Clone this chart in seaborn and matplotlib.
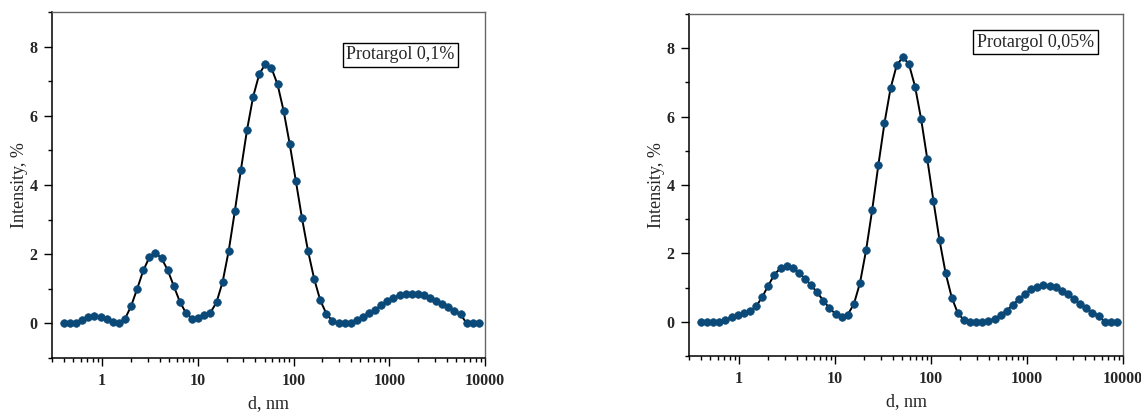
import numpy as np
import pandas as pd
import matplotlib
matplotlib.use("Agg")
import matplotlib.pyplot as plt
import seaborn as sns
from matplotlib.ticker import LogLocator, FixedLocator, NullFormatter, FuncFormatter

# Particle size bins (nm)
sizes = [0.4, 0.4632, 0.5365, 0.6213, 0.7195, 0.8332, 0.9649, 1.117, 1.294, 1.499,
         1.736, 2.01, 2.328, 2.696, 3.122, 3.615, 4.187, 4.849, 5.615, 6.503,
         7.531, 8.721, 10.1, 11.7, 13.54, 15.69, 18.17, 21.04, 24.36, 28.21,
         32.67, 37.84, 43.82, 50.75, 58.77, 68.06, 78.82, 91.28, 105.7, 122.4,
         141.8, 164.2, 190.1, 220.2, 255.0, 295.3, 342.0, 396.1, 458.7, 531.2,
         615.1, 712.4, 825.0, 955.4, 1106, 1281, 1484, 1718, 1990, 2305,
         2669, 3091, 3580, 4145, 4801, 5560, 6439, 7456, 8635]

# Intensity (%) - Protargol 0,1%
intensity_01 = [0, 0, 0, 0.10, 0.18, 0.21, 0.18, 0.12, 0.05, 0.02,
                0.13, 0.50, 1.00, 1.53, 1.91, 2.04, 1.88, 1.54, 1.08, 0.62,
                0.30, 0.14, 0.16, 0.23, 0.31, 0.61, 1.20, 2.10, 3.24, 4.44,
                5.59, 6.55, 7.20, 7.50, 7.38, 6.91, 6.14, 5.18, 4.12, 3.05,
                2.09, 1.29, 0.67, 0.28, 0.07, 0, 0, 0.02, 0.09, 0.18,
                0.29, 0.40, 0.53, 0.64, 0.74, 0.81, 0.85, 0.86, 0.84, 0.81,
                0.74, 0.64, 0.57, 0.47, 0.36, 0.26, 0, 0, 0]

# Intensity (%) - Protargol 0,05%
intensity_005 = [0, 0, 0, 0, 0.06, 0.13, 0.19, 0.25, 0.31, 0.45,
                 0.72, 1.06, 1.38, 1.57, 1.62, 1.57, 1.44, 1.26, 1.07, 0.86,
                 0.62, 0.40, 0.23, 0.15, 0.21, 0.52, 1.14, 2.10, 3.28, 4.58,
                 5.81, 6.83, 7.50, 7.74, 7.53, 6.88, 5.92, 4.76, 3.54, 2.39,
                 1.42, 0.71, 0.25, 0.05, 0, 0, 0, 0.03, 0.09, 0.19,
                 0.33, 0.50, 0.66, 0.82, 0.95, 1.03, 1.07, 1.06, 1.01, 0.91,
                 0.80, 0.66, 0.52, 0.39, 0.27, 0.18, 0, 0, 0]

labels = ["Protargol 0,1%", "Protargol 0,05%"]
x_major = [1, 10, 100, 1000, 10000]
y_major = [0, 2, 4, 6, 8]

sns.set_theme(style="white")
plt.rcParams['font.family'] = ['Liberation Serif', 'DejaVu Serif']

fig = plt.figure(figsize=(11.41, 4.12), dpi=100)
ax1 = fig.add_axes([52/1141, 1-358/412, 433/1141, 346/412])
ax2 = fig.add_axes([689/1141, 1-356/412, 434/1141, 342/412])

marker_color = '#0b4a78'
label_pos = [(0.805, 0.876), (0.798, 0.918)]

for ax, vals, lab, lp in zip([ax1, ax2], [intensity_01, intensity_005], labels, label_pos):
    df = pd.DataFrame({"d": sizes, "I": vals})
    sns.lineplot(data=df, x="d", y="I", ax=ax, color="black", linewidth=1.4, zorder=2)
    sns.scatterplot(data=df, x="d", y="I", ax=ax, color=marker_color, s=30,
                    edgecolor=marker_color, linewidth=0.5, zorder=3)
    ax.set_xscale("log")
    ax.set_xlim(0.3, 10000)
    ax.set_ylim(-1, 9)
    ax.xaxis.set_major_locator(FixedLocator(x_major))
    ax.xaxis.set_major_formatter(FuncFormatter(lambda v, p: f"{v:g}"))
    ax.xaxis.set_minor_locator(LogLocator(base=10, subs=np.arange(2, 10), numticks=20))
    ax.xaxis.set_minor_formatter(NullFormatter())
    ax.yaxis.set_major_locator(FixedLocator(y_major))
    ax.yaxis.set_minor_locator(FixedLocator([-1, 1, 3, 5, 7, 9]))
    ax.tick_params(axis="both", which="major", direction="out", length=5.5, width=1,
                   color="black", labelsize=11.5, pad=5, bottom=True, left=True)
    ax.tick_params(axis="both", which="minor", direction="out", length=3, width=1,
                   color="black", bottom=True, left=True)
    for t in ax.get_xticklabels() + ax.get_yticklabels():
        t.set_fontweight("bold")
    for s in ["left", "bottom"]:
        ax.spines[s].set_color("black")
        ax.spines[s].set_linewidth(1.1)
    for s in ["top", "right"]:
        ax.spines[s].set_color("#666666")
        ax.spines[s].set_linewidth(1.0)
    ax.set_xlabel("d, nm", fontsize=13, va="center")
    ax.set_ylabel("Intensity, %", fontsize=13, va="center")
    ax.xaxis.set_label_coords(0.5, -0.133)
    ax.yaxis.set_label_coords(-0.074, 0.5)
    ax.text(lp[0], lp[1], lab, transform=ax.transAxes, ha="center", va="center",
            fontsize=13, bbox=dict(boxstyle="square,pad=0.2", facecolor="white",
                                   edgecolor="black", linewidth=1))
    ax.grid(False)

fig.savefig("out.png", dpi=100)
